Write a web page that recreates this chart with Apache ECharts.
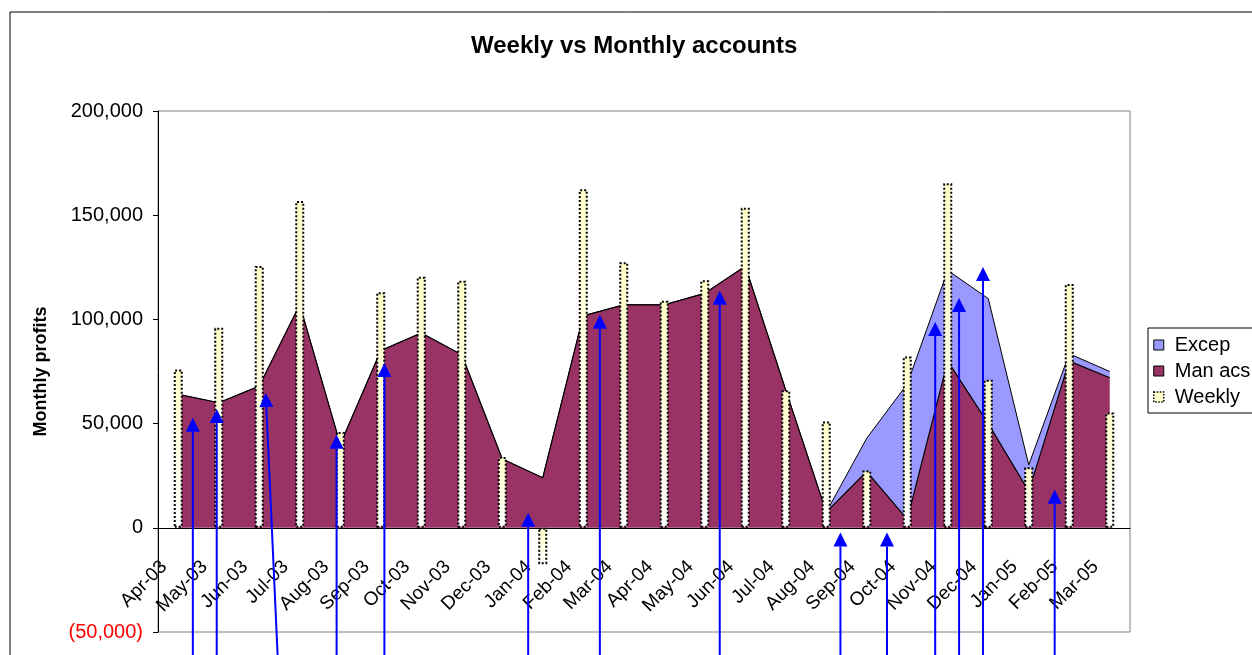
<!DOCTYPE html>
<html>
<head>
<meta charset="utf-8">
<script src="https://cdn.jsdelivr.net/npm/echarts@6/dist/echarts.min.js"></script>
<style>
  html, body { margin: 0; padding: 0; background: #fff; }
  #chart { width: 1252px; height: 655px; }
</style>
</head>
<body>
<div id="chart"></div>
<script>
const months = ['Apr-03', 'May-03', 'Jun-03', 'Jul-03', 'Aug-03', 'Sep-03', 'Oct-03', 'Nov-03', 'Dec-03', 'Jan-04', 'Feb-04', 'Mar-04',
  'Apr-04', 'May-04', 'Jun-04', 'Jul-04', 'Aug-04', 'Sep-04', 'Oct-04', 'Nov-04', 'Dec-04', 'Jan-05', 'Feb-05', 'Mar-05']
const manAcs = [64000, 60000, 68000, 107000, 40000, 85000, 93500, 83000, 33000, 24000, 101700, 107000,
  107000, 112500, 125500, 66000, 7500, 27000, 4000, 80000, 50000, 17500, 80000, 72000]
const excep = [0, 0, 0, 0, 0, 0, 0, 0, 0, 0, 0, 0,
  0, 0, 0, 0, 0, 16000, 65000, 43500, 60000, 12700, 3500, 3000]
const weekly = [76000, 96000, 125600, 156800, 46000, 113000, 120500, 118600, 34000, -17500, 162400, 127400,
  109000, 118800, 153600, 66000, 51000, 27500, 82200, 165300, 71000, 29000, 117000, 55300]
const yTicks = [-50000, 0, 50000, 100000, 150000, 200000]

// blue annotation arrows: x in month units (0 = left edge of Apr-03), y in profit units
const arrowTipX = [0.86, 1.45, 2.66, 4.41, 5.59, 9.14, 10.91, 13.87, 16.85, 18.0, 19.19, 19.78, 20.37, 22.14]
const arrowTipY = [52800, 57000, 64700, 44600, 79100, 7200, 102200, 113700, -2200, -2200, 98800, 110300, 125200, 18200]
const arrowBaseX = [0.86, 1.45, 2.96, 4.41, 5.59, 9.14, 10.91, 13.87, 16.85, 18.0, 19.19, 19.78, 20.37, 22.14]
const arrowBaseY = -64000

const font = 'Liberation Sans, Arial, sans-serif'
const gridTop = 111
const gridBottom = 23
const chartH = 655

function fmtNum(v) {
  return String(v).replace(/\B(?=(\d{3})+(?!\d))/g, ',')
}

const yMin = yTicks[0]
const yMax = yTicks[yTicks.length - 1]
// category axis sits on the zero line (labels too), so shift it up from the grid bottom
const zeroOffset = -(chartH - gridTop - gridBottom) * (0 - yMin) / (yMax - yMin)

const arrowData = arrowTipX.map((x, i) => [x, arrowTipY[i], arrowBaseX[i], arrowBaseY])

const chart = echarts.init(document.getElementById('chart'))
chart.setOption({
  backgroundColor: '#fff',
  animation: false,
  textStyle: { fontFamily: font },
  graphic: [{
    type: 'rect',
    shape: { x: 10, y: 12, width: 1400, height: 800 },
    style: { fill: 'none', stroke: '#000', lineWidth: 1 },
    silent: true
  }],
  title: {
    text: 'Weekly vs Monthly accounts',
    left: 466,
    top: 29,
    textStyle: { fontFamily: font, fontSize: 24, fontWeight: 'bold', color: '#000' }
  },
  legend: {
    orient: 'vertical',
    left: 1148,
    top: 328,
    padding: [7, 30, 6, 5],
    itemGap: 6,
    itemWidth: 10,
    itemHeight: 10,
    borderColor: '#000',
    borderWidth: 1,
    backgroundColor: '#fff',
    textStyle: { fontFamily: font, fontSize: 20, color: '#000', padding: [0, 0, 0, 6] },
    data: [
      { name: 'Excep', icon: 'rect', itemStyle: { color: '#9999FF', borderColor: '#000', borderWidth: 1, borderType: 'solid' } },
      { name: 'Man acs', icon: 'rect', itemStyle: { color: '#993366', borderColor: '#000', borderWidth: 1, borderType: 'solid' } },
      { name: 'Weekly', icon: 'rect', itemStyle: { color: '#FFFFCC', borderColor: '#000', borderWidth: 1.5, borderType: [1.5, 1.5] } }
    ]
  },
  grid: {
    left: 158,
    right: 122,
    top: gridTop,
    bottom: gridBottom,
    show: true,
    borderColor: '#808080',
    borderWidth: 1,
    containLabel: false,
    outerBoundsMode: 'none'
  },
  xAxis: [{
    type: 'category',
    data: months,
    boundaryGap: true,
    position: 'bottom',
    offset: zeroOffset,
    axisLine: { onZero: false, lineStyle: { color: '#000', width: 1 } },
    axisTick: { interval: 0, length: 5, lineStyle: { color: '#000' } },
    axisLabel: {
      interval: 0,
      rotate: 45,
      margin: 22,
      padding: [0, 20, 0, 0],
      fontSize: 19,
      color: '#000',
      fontFamily: font
    },
    splitLine: { show: false }
  }, {
    type: 'value',
    min: 0,
    max: months.length,
    show: false
  }],
  yAxis: {
    type: 'value',
    min: yMin,
    max: yMax,
    interval: yTicks[1] - yTicks[0],
    name: 'Monthly profits',
    nameLocation: 'middle',
    nameGap: 108,
    nameTextStyle: { fontFamily: font, fontSize: 18, fontWeight: 'bold', color: '#000' },
    axisLine: { show: true, lineStyle: { color: '#000', width: 1 } },
    axisTick: { show: true, length: 5, lineStyle: { color: '#000' } },
    axisLabel: {
      margin: 15,
      fontSize: 20,
      color: '#000',
      fontFamily: font,
      formatter: function (v) {
        if (v < 0) return '{neg|(' + fmtNum(-v) + ')}'
        return fmtNum(v)
      },
      rich: { neg: { color: '#FF0000', fontSize: 20, fontFamily: font } }
    },
    splitLine: { show: false }
  },
  series: [
    {
      name: 'Man acs',
      type: 'line',
      stack: 'total',
      data: manAcs,
      showSymbol: false,
      symbol: 'none',
      itemStyle: { color: '#993366' },
      lineStyle: { color: '#000', width: 1.2 },
      areaStyle: { color: '#993366', opacity: 1 },
      z: 2
    },
    {
      name: 'Excep',
      type: 'line',
      stack: 'total',
      data: excep,
      showSymbol: false,
      symbol: 'none',
      itemStyle: { color: '#9999FF' },
      lineStyle: { color: '#000', width: 1 },
      areaStyle: { color: '#9999FF', opacity: 1 },
      z: 1
    },
    {
      name: 'Weekly',
      type: 'bar',
      data: weekly,
      barWidth: 9,
      itemStyle: {
        color: new echarts.graphic.LinearGradient(0, 0, 0, 1, [
          { offset: 0, color: '#FFFFC8' },
          { offset: 1, color: '#FFFFFF' }
        ]),
        borderColor: '#000',
        borderWidth: 2,
        borderType: [2, 2]
      },
      z: 3
    },
    {
      name: 'arrows',
      type: 'custom',
      xAxisIndex: 1,
      yAxisIndex: 0,
      clip: false,
      z: 10,
      silent: true,
      encode: { x: [0, 2], y: [1, 3] },
      data: arrowData,
      renderItem: function (params, api) {
        const tip = api.coord([api.value(0), api.value(1)])
        const base = api.coord([api.value(2), api.value(3)])
        const dx = tip[0] - base[0]
        const dy = tip[1] - base[1]
        const len = Math.sqrt(dx * dx + dy * dy)
        const ux = dx / len
        const uy = dy / len
        const headLen = 14
        const headW = 7
        const hb = [tip[0] - ux * headLen, tip[1] - uy * headLen]
        const px = -uy
        const py = ux
        return {
          type: 'group',
          children: [
            {
              type: 'line',
              shape: { x1: base[0], y1: base[1], x2: hb[0], y2: hb[1] },
              style: { stroke: '#0000FF', lineWidth: 2 }
            },
            {
              type: 'polygon',
              shape: { points: [tip, [hb[0] + px * headW, hb[1] + py * headW], [hb[0] - px * headW, hb[1] - py * headW]] },
              style: { fill: '#0000FF' }
            }
          ]
        }
      }
    }
  ]
})
</script>
</body>
</html>
